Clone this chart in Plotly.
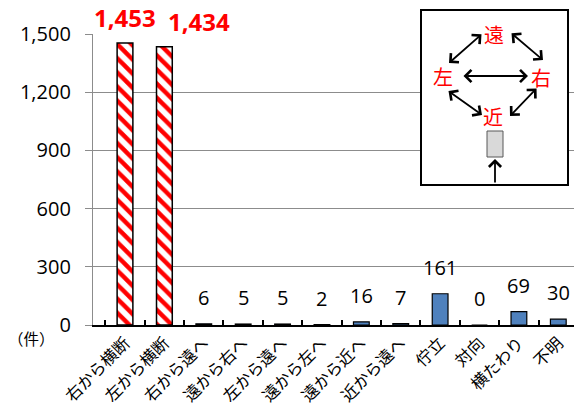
import plotly.graph_objects as go

# data
categories = ["右から横断", "左から横断", "右から遠へ", "遠から右へ", "左から遠へ", "遠から左へ",
              "遠から近へ", "近から遠へ", "佇立", "対向", "横たわり", "不明"]
counts = [1453, 1434, 6, 5, 5, 2, 16, 7, 161, 0, 69, 30]
highlight = [True, True] + [False] * 10
y_ticks = [0, 300, 600, 900, 1200, 1500]

FONT = "Open Sans, Noto Sans CJK JP"
JP = "Noto Sans CJK JP"

# the page body adds an 8px margin, so the figure is drawn 8px smaller
W, H, OFF = 582, 409, 8
# plot area in page pixels (for placing the inset diagram)
L, R, T, B = 93, 578, 34, 325


def px(x):
    return (x - L) / (R - L)


def py(y):
    return (B - y) / (B - T)


hi_x = [c for c, h in zip(categories, highlight) if h]
hi_y = [v for v, h in zip(counts, highlight) if h]
lo_x = [c for c, h in zip(categories, highlight) if not h]
lo_y = [v for v, h in zip(counts, highlight) if not h]

fig = go.Figure()
fig.add_trace(go.Bar(
    x=hi_x, y=hi_y, width=0.4,
    marker=dict(color="white", line=dict(color="black", width=1.5),
                pattern=dict(shape="\\", fgcolor="#ff0000", bgcolor="white",
                             size=10, solidity=0.45, fillmode="replace")),
))
fig.add_trace(go.Bar(
    x=lo_x, y=lo_y, width=0.4,
    marker=dict(color="#4f81bd", line=dict(color="black", width=1.2)),
))

# value labels
for i, (c, v) in enumerate(zip(categories, counts)):
    if highlight[i]:
        fig.add_annotation(x=c, y=v, text=f"{v:,}", showarrow=False, yanchor="bottom",
                           yshift=8, xshift=[0, 35][i], borderpad=0,
                           font=dict(family=FONT, size=24, color="#ff0000", weight="bold"))
    else:
        fig.add_annotation(x=c, y=v, text=f"{v:,}", showarrow=False, yanchor="bottom",
                           yshift=11, font=dict(family=FONT, size=20, color="black"))

fig.add_annotation(x=px(31), y=py(338), xref="paper", yref="paper", text="（件）",
                   xanchor="center", yanchor="middle",
                   showarrow=False, font=dict(family=JP, size=15.5, color="black"))

# inset diagram
fig.add_shape(type="rect", xref="paper", yref="paper", x0=px(421), x1=px(568),
              y0=py(185), y1=py(10), fillcolor="white", line=dict(color="black", width=2))
fig.add_shape(type="rect", xref="paper", yref="paper", x0=px(487), x1=px(503),
              y0=py(157), y1=py(131), fillcolor="#d9d9d9", line=dict(color="#595959", width=1))
for t, x, y in [("遠", 494, 35), ("左", 443, 76), ("右", 541, 77), ("近", 493, 116)]:
    fig.add_annotation(x=px(x), y=py(y), xref="paper", yref="paper", text=t, showarrow=False,
                       xanchor="center", yanchor="middle",
                       font=dict(family=JP, size=20, color="#ff0000"))
arrows = [((462, 76), (528, 76)), ((483, 33), (449, 63)), ((510, 32), (543, 60)),
          ((447, 90), (482, 115)), ((538, 87), (510, 116))]
for (x0, y0), (x1, y1) in arrows:
    fig.add_annotation(x=px(x1), y=py(y1), ax=x0 - x1, ay=y0 - y1, xref="paper", yref="paper",
                       axref="pixel", ayref="pixel", text="", showarrow=True,
                       arrowside="end+start", arrowhead=4, arrowsize=1.3, arrowwidth=1.8,
                       arrowcolor="black")
fig.add_annotation(x=px(495), y=py(159), ax=0, ay=25, xref="paper", yref="paper",
                   axref="pixel", ayref="pixel", text="", showarrow=True, arrowhead=4,
                   arrowsize=1.3, arrowwidth=1.8, arrowcolor="black")

fig.update_layout(
    width=W - OFF, height=H - OFF,
    margin=dict(l=L - OFF, r=W - R, t=T - OFF, b=H - B),
    paper_bgcolor="white", plot_bgcolor="white",
    showlegend=False, barmode="overlay",
    font=dict(family=FONT, color="black"),
)
fig.update_xaxes(
    categoryorder="array", categoryarray=categories, automargin=False,
    tickangle=-45, tickfont=dict(family=JP, size=16.5),
    showline=True, linecolor="black", linewidth=2,
    ticks="inside", ticklen=5, tickcolor="black", tickwidth=1.5, tickson="boundaries",
    showgrid=False,
)
fig.update_yaxes(
    range=[0, 1500], tickvals=y_ticks, tickformat=",d", automargin=False,
    tickfont=dict(family=FONT, size=20), ticklabelstandoff=10,
    showgrid=True, gridcolor="#8c8c8c", gridwidth=1.3,
    showline=True, linecolor="#8c8c8c", linewidth=1.3,
    ticks="outside", ticklen=7, tickcolor="#8c8c8c",
    zeroline=False,
)

fig.write_html("out.html")
